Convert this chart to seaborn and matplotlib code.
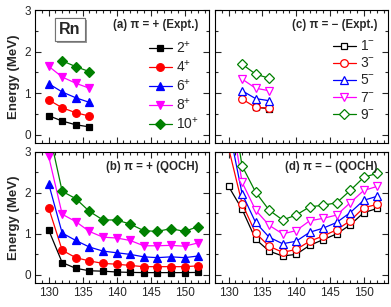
import numpy as np
import pandas as pd
import matplotlib
matplotlib.use("Agg")
import matplotlib.pyplot as plt
import matplotlib.patheffects as pe
from matplotlib.ticker import MultipleLocator
import seaborn as sns

# neutron numbers
N_EXP_POS = [130, 132, 134, 136]
N_EXP_NEG = [130, 132, 134, 136]
N_QOCH = [130, 132, 134, 136, 138, 140, 142, 144, 146, 148, 150, 152]

POS_LABELS = ["2$^{+}$", "4$^{+}$", "6$^{+}$", "8$^{+}$", "10$^{+}$"]
NEG_LABELS = ["1$^{-}$", "3$^{-}$", "5$^{-}$", "7$^{-}$", "9$^{-}$"]

# (a) experiment, positive parity
exp_2p = [0.46, 0.33, 0.24, 0.19]
exp_4p = [0.84, 0.65, 0.53, 0.45]
exp_6p = [1.23, 1.03, 0.89, 0.78]
exp_8p = [1.65, 1.39, 1.24, 1.12]
exp_10p = [np.nan, 1.78, 1.64, 1.52]

# (c) experiment, negative parity
exp_1m = [np.nan, np.nan, 0.66, 0.63]
exp_3m = [np.nan, 0.86, 0.66, 0.64]
exp_5m = [np.nan, 1.06, 0.87, 0.82]
exp_7m = [np.nan, 1.34, 1.12, 1.06]
exp_9m = [np.nan, 1.70, 1.46, 1.36]

# (b) QOCH, positive parity
qoch_2p = [1.10, 0.30, 0.16, 0.10, 0.09, 0.07, 0.06, 0.055, 0.055, 0.055, 0.055, 0.06]
qoch_4p = [1.64, 0.60, 0.42, 0.34, 0.28, 0.26, 0.23, 0.20, 0.20, 0.20, 0.20, 0.22]
qoch_6p = [2.23, 1.02, 0.84, 0.68, 0.58, 0.54, 0.50, 0.44, 0.42, 0.44, 0.42, 0.46]
qoch_8p = [2.90, 1.48, 1.30, 1.06, 0.92, 0.90, 0.84, 0.71, 0.71, 0.72, 0.70, 0.78]
qoch_10p = [3.55, 2.04, 1.86, 1.55, 1.34, 1.34, 1.24, 1.08, 1.06, 1.13, 1.06, 1.18]

# (d) QOCH, negative parity
qoch_1m = [2.16, 1.60, 0.87, 0.58, 0.46, 0.50, 0.72, 0.86, 1.00, 1.22, 1.52, 1.62]
qoch_3m = [3.10, 1.74, 1.02, 0.70, 0.55, 0.62, 0.82, 0.95, 1.10, 1.32, 1.64, 1.72]
qoch_5m = [3.63, 1.98, 1.28, 0.92, 0.76, 0.82, 1.04, 1.14, 1.28, 1.52, 1.82, 1.92]
qoch_7m = [4.26, 2.26, 1.58, 1.21, 1.00, 1.08, 1.32, 1.38, 1.46, 1.76, 2.06, 2.16]
qoch_9m = [4.70, 2.66, 2.02, 1.58, 1.34, 1.46, 1.66, 1.70, 1.76, 2.06, 2.38, 2.48]

COLORS = ["black", "#ff0000", "#0000ff", "#ff00ff", "#008000"]
MARKERS = ["s", "o", "^", "v", "D"]
MSIZES = [4.5, 5.5, 6, 6, 5]

sns.set_style("ticks")
plt.rcParams["font.family"] = ["Liberation Sans", "DejaVu Sans"]
plt.rcParams["mathtext.fontset"] = "custom"
plt.rcParams["mathtext.rm"] = "Liberation Sans"
plt.rcParams["mathtext.default"] = "regular"


def draw_panel(ax, n_vals, series, labels, filled):
    for i, vals in enumerate(series):
        sns.lineplot(
            x=n_vals,
            y=vals,
            ax=ax,
            color=COLORS[i],
            marker=MARKERS[i],
            markersize=MSIZES[i],
            markeredgecolor=COLORS[i],
            markerfacecolor=COLORS[i] if filled else "white",
            markeredgewidth=0.9,
            linewidth=0.9,
            label=labels[i],
            legend=False,
        )


def style_axes(ax, show_x, show_y):
    ax.set_xlim(128, 153.6)
    ax.set_ylim(-0.2, 3)
    ax.xaxis.set_major_locator(MultipleLocator(5))
    ax.xaxis.set_minor_locator(MultipleLocator(1))
    ax.yaxis.set_major_locator(MultipleLocator(1))
    ax.yaxis.set_minor_locator(MultipleLocator(0.5))
    ax.tick_params(which="both", direction="in", top=True, right=True,
                   width=0.8, labelsize=8.5, pad=3)
    ax.tick_params(which="major", length=4)
    ax.tick_params(which="minor", length=2)
    for sp in ax.spines.values():
        sp.set_linewidth(0.8)
        sp.set_color("black")
    ax.set_xlabel("")
    if not show_x:
        ax.tick_params(labelbottom=False)
    if show_y:
        ax.set_ylabel("Energy (MeV)", fontsize=9.5, fontweight="bold", labelpad=3)
    else:
        ax.tick_params(labelleft=False)
        ax.set_ylabel("")


fig = plt.figure(figsize=(3.91, 3.07), dpi=100)
ax_a = fig.add_axes([0.0895, 0.534, 0.445, 0.433])
ax_c = fig.add_axes([0.550, 0.534, 0.4425, 0.433])
ax_b = fig.add_axes([0.0895, 0.078, 0.445, 0.427])
ax_d = fig.add_axes([0.550, 0.078, 0.4425, 0.427])

draw_panel(ax_a, N_EXP_POS, [exp_2p, exp_4p, exp_6p, exp_8p, exp_10p], POS_LABELS, True)
draw_panel(ax_c, N_EXP_NEG, [exp_1m, exp_3m, exp_5m, exp_7m, exp_9m], NEG_LABELS, False)
draw_panel(ax_b, N_QOCH, [qoch_2p, qoch_4p, qoch_6p, qoch_8p, qoch_10p], POS_LABELS, True)
draw_panel(ax_d, N_QOCH, [qoch_1m, qoch_3m, qoch_5m, qoch_7m, qoch_9m], NEG_LABELS, False)

style_axes(ax_a, False, True)
style_axes(ax_c, False, False)
style_axes(ax_b, True, True)
style_axes(ax_d, True, False)

titles = {ax_a: "(a) π = + (Expt.)", ax_c: "(c) π = − (Expt.)",
          ax_b: "(b) π = + (QOCH)", ax_d: "(d) π = − (QOCH)"}
for ax, t in titles.items():
    ax.text(0.94, 0.885, t, transform=ax.transAxes, ha="right", va="center",
            fontsize=8.3, fontweight="bold")

for ax, x in [(ax_a, 0.94), (ax_c, 0.925)]:
    ax.legend(loc="upper right", bbox_to_anchor=(x, 0.78), frameon=False,
              fontsize=10, handlelength=1.65, handletextpad=0.3,
              labelspacing=0.22, borderpad=0, borderaxespad=0)

rn = ax_a.text(0.2, 0.855, "Rn", transform=ax_a.transAxes, ha="center", va="center",
               fontsize=11.5, fontweight="bold",
               bbox=dict(boxstyle="square,pad=0.25", fc="white", ec="0.45", lw=0.8))
rn.get_bbox_patch().set_path_effects(
    [pe.withSimplePatchShadow(offset=(1.5, -1.5), shadow_rgbFace="0.6", alpha=1), pe.Normal()])

fig.savefig("out.png", dpi=100)
